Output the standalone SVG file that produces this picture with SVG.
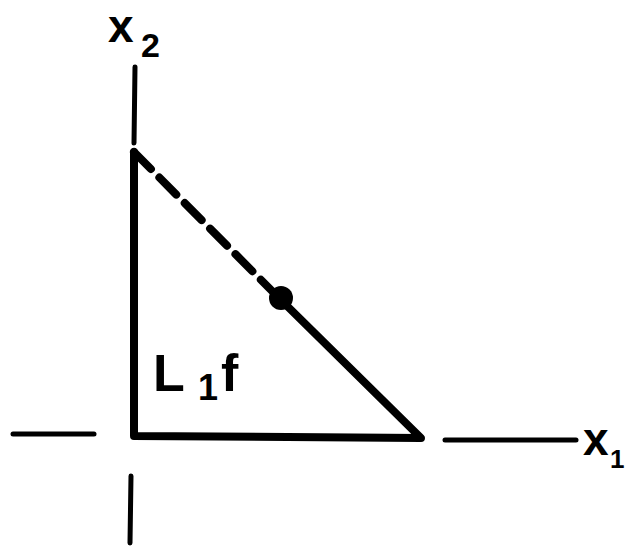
<svg xmlns="http://www.w3.org/2000/svg" width="626" height="546" viewBox="0 0 626 546">
<style>
.ax{stroke:#000;stroke-width:5;stroke-linecap:round;fill:none}
.tri{stroke:#000;stroke-width:8;stroke-linecap:round;stroke-linejoin:round;fill:none}
.t{font-family:"Liberation Sans",Arial,sans-serif;font-weight:bold;fill:#000}
</style>
<rect width="626" height="546" fill="#fff"/>
<g id="axes">
<line class="ax" x1="135" y1="67" x2="134" y2="143"/>
<line class="ax" x1="131" y1="476" x2="130" y2="543"/>
<line class="ax" x1="13" y1="434" x2="94" y2="434"/>
<line class="ax" x1="445" y1="440" x2="576" y2="440"/>
</g>
<g id="triangle">
<polyline class="tri" points="134,152 134,436 421,438 280,299"/>
<line class="tri" x1="134" y1="152" x2="280" y2="299" stroke-dasharray="24 12"/>
<circle cx="281" cy="298" r="12" fill="#000"/>
</g>
<g id="labels">
<text class="t" x="108" y="42" font-size="46">x</text>
<text class="t" x="141" y="57" font-size="34">2</text>
<text class="t" x="583" y="455" font-size="46">x</text>
<text class="t" x="610" y="468" font-size="26">1</text>
<text class="t" x="153" y="391" font-size="52">L</text>
<text class="t" x="198" y="400" font-size="36">1</text>
<text class="t" x="221" y="391" font-size="52">f</text>
</g>
</svg>
